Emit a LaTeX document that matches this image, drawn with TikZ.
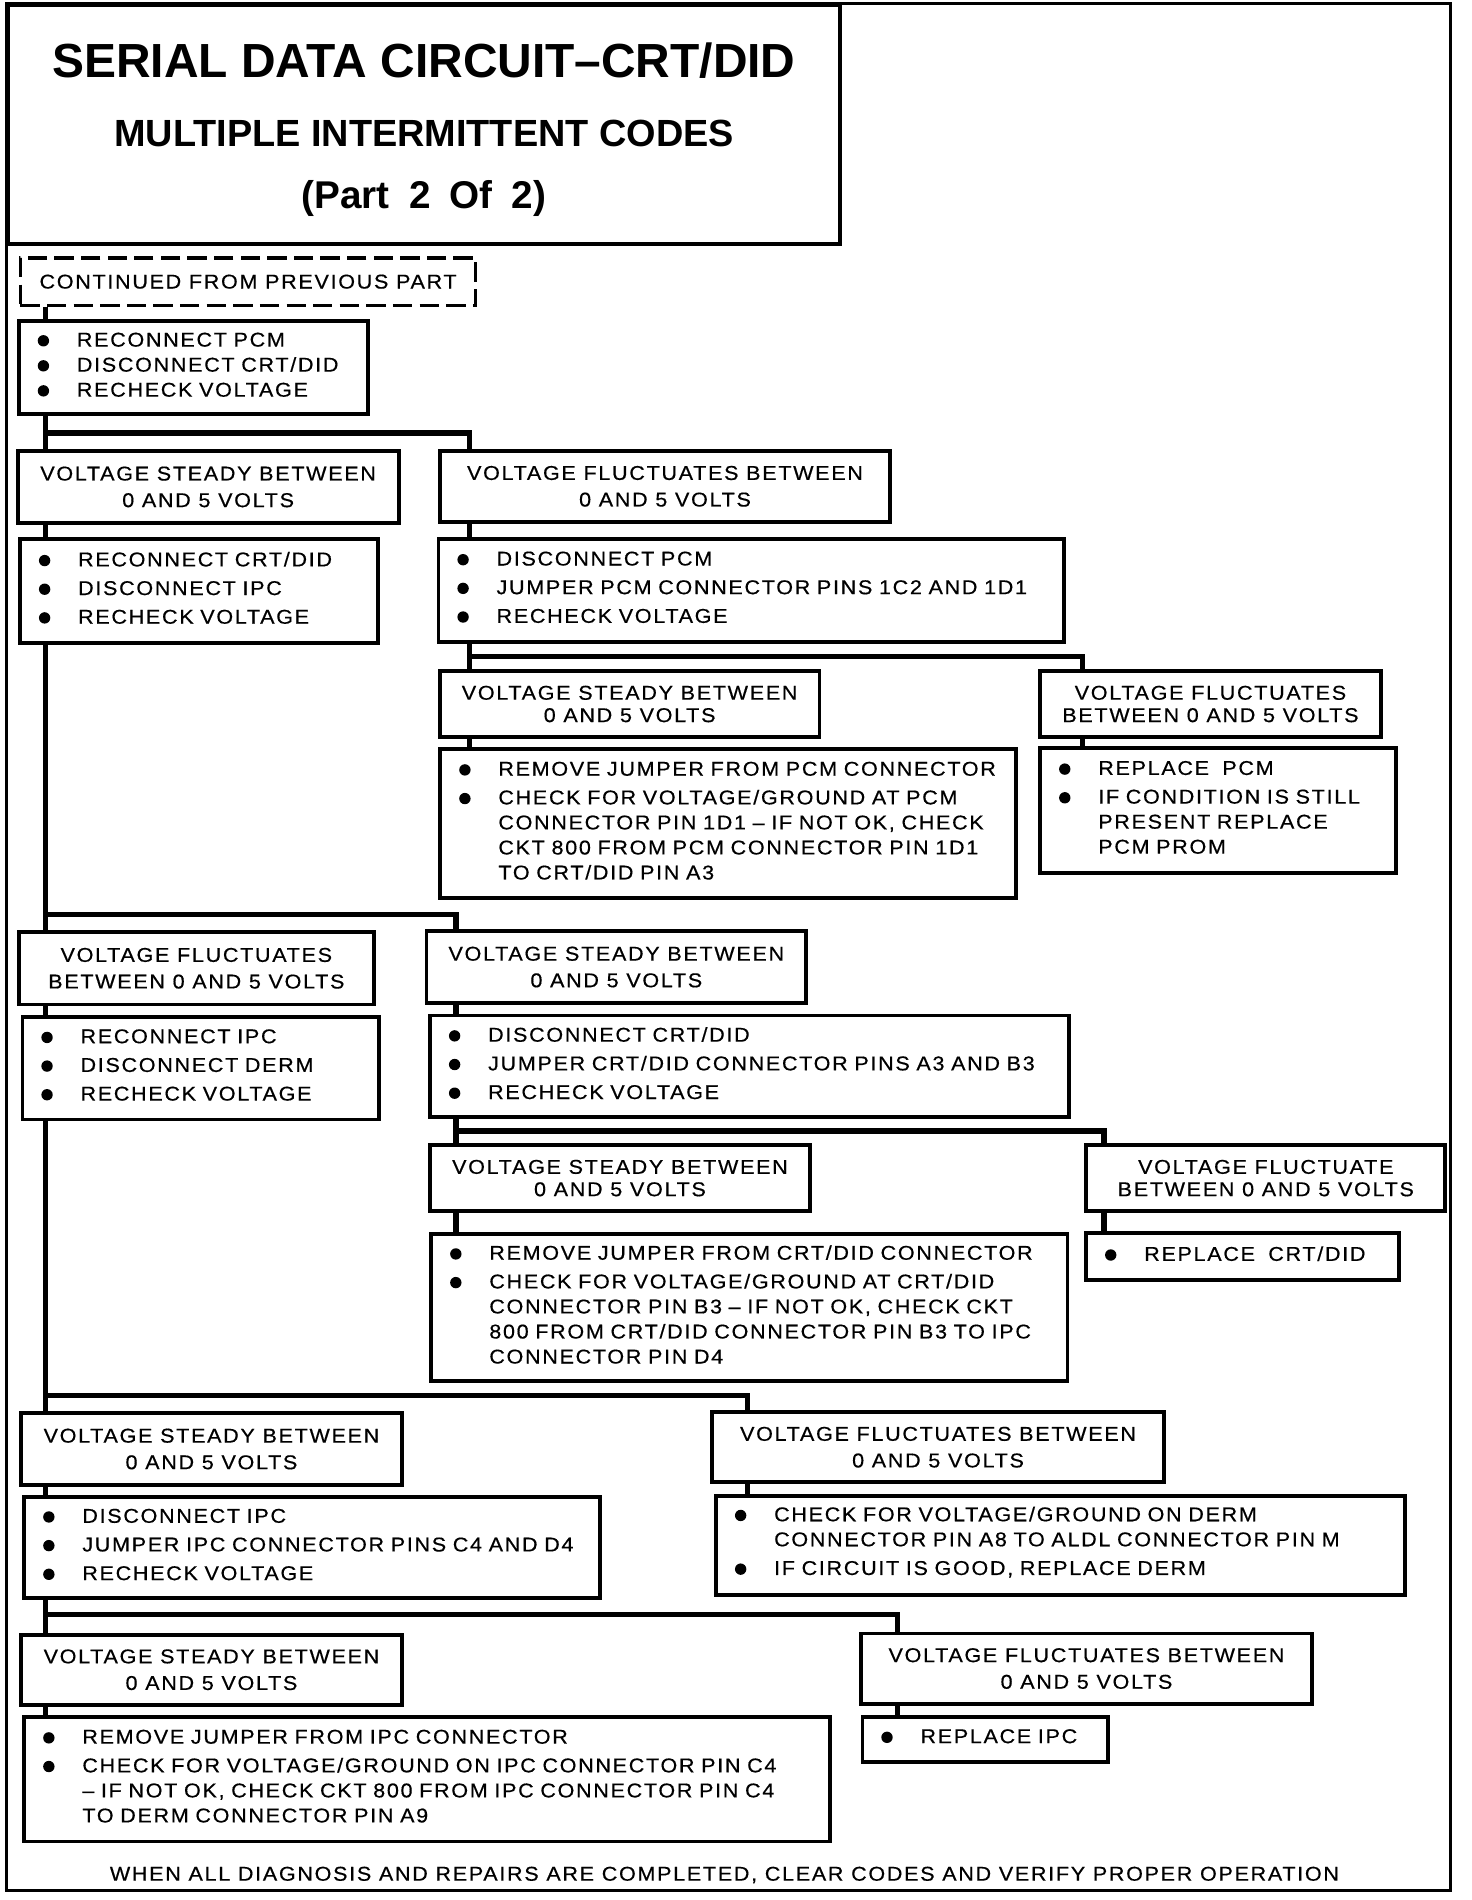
\documentclass[tikz,border=0pt]{standalone}
\usepackage{fontspec}
\setmainfont{Liberation Sans}[LetterSpace=8.5,FakeStretch=1.08,FakeBold=0.5]
\newfontfamily\ttlfont{Liberation Sans}

\newcommand\bdot{\tikz[baseline=0pt]\fill (0pt,4.8pt) circle[radius=4.7pt];}
\newcommand\bitem[1]{\hangindent=33.4pt\hangafter=1\noindent\makebox[33.4pt][l]{\hspace{1pt}\bdot}#1\par}

\begin{document}
\begin{tikzpicture}[x=1pt,y=-1pt,
	hbox/.style={draw,line width=3.2pt,anchor=north west,align=center,inner sep=0pt,font=\fontsize{16.5}{22}\selectfont},
	tbox/.style={hbox,font=\fontsize{16.5}{18.5}\selectfont},
	lbox/.style={draw,line width=3.2pt,anchor=north west,inner xsep=14.6pt,inner ysep=0pt,font=\fontsize{16.5}{20.7}\selectfont,
		execute at begin node={\setlength\parskip{3pt}},execute at end node={\nointerlineskip\vbox to 5pt{}}},
	link/.style={line width=4.5pt}]
	\useasboundingbox (0,0) rectangle (1217,1571);
	\draw[line width=2.5pt] (5,3) rectangle (1199,1563);
	% title
	\node[draw,line width=3.2pt,anchor=north west,minimum width=688,minimum height=197,inner sep=0pt,align=center,font=\ttlfont\bfseries\fontsize{31.3}{51}\selectfont] (ttl) at (5,3)
		{{\fontsize{39.6}{40}\selectfont\rule{0pt}{37pt}SERIAL DATA CIRCUIT–CRT/DID}\\[6pt] MULTIPLE INTERMITTENT CODES\\ {\fontsize{32}{40}\selectfont(Part\hspace{7pt} 2\hspace{7pt} Of\hspace{7pt} 2)}};
	\node[hbox,dashed,dash pattern=on 16pt off 6pt,line width=2.8pt,minimum width=376.5,minimum height=39] (cont) at (15.5,212) {CONTINUED FROM PREVIOUS PART};
	% first step
	\node[lbox,text width=259.3,minimum height=77] (a) at (14,264) {\setlength\parskip{0pt}\bitem{RECONNECT PCM}\bitem{DISCONNECT CRT/DID}\bitem{RECHECK VOLTAGE}};
	\node[hbox,minimum width=315,minimum height=60] (b) at (13,371) {VOLTAGE STEADY BETWEEN\\0 AND 5 VOLTS};
	\node[hbox,minimum width=371.5,minimum height=59] (c) at (362.5,371) {VOLTAGE FLUCTUATES BETWEEN\\0 AND 5 VOLTS};
	\node[lbox,text width=266.8,minimum height=86] (b2) at (15,444) {\bitem{RECONNECT CRT/DID}\bitem{DISCONNECT IPC}\bitem{RECHECK VOLTAGE}};
	\node[lbox,text width=487.8,minimum height=85] (c2) at (361,444) {\bitem{DISCONNECT PCM}\bitem{JUMPER PCM CONNECTOR PINS 1C2 AND 1D1}\bitem{RECHECK VOLTAGE}};
	\node[tbox,minimum width=314,minimum height=55] (c3) at (362,553) {VOLTAGE STEADY BETWEEN\\0 AND 5 VOLTS};
	\node[tbox,minimum width=281.5,minimum height=55] (c4) at (858.5,553) {VOLTAGE FLUCTUATES\\BETWEEN 0 AND 5 VOLTS};
	\node[lbox,text width=446.8,minimum height=123] (c5) at (362.5,618) {\bitem{REMOVE JUMPER FROM PCM CONNECTOR}\bitem{CHECK FOR VOLTAGE/GROUND AT PCM\newline CONNECTOR PIN 1D1 – IF NOT OK, CHECK\newline CKT 800 FROM PCM CONNECTOR PIN 1D1\newline TO CRT/DID PIN A3}};
	\node[lbox,text width=265.3,minimum height=103] (c6) at (858.5,617) {\bitem{REPLACE\ \ PCM}\bitem{IF CONDITION IS STILL\newline PRESENT REPLACE\newline PCM PROM}};
	% second step
	\node[hbox,minimum width=293.5,minimum height=60] (d) at (14,769) {VOLTAGE FLUCTUATES\\BETWEEN 0 AND 5 VOLTS};
	\node[hbox,minimum width=314,minimum height=60] (e) at (351,768) {VOLTAGE STEADY BETWEEN\\0 AND 5 VOLTS};
	\node[lbox,text width=265.8,minimum height=85] (d2) at (17,839) {\bitem{RECONNECT IPC}\bitem{DISCONNECT DERM}\bitem{RECHECK VOLTAGE}};
	\node[lbox,text width=498.8,minimum height=84] (e2) at (354,838) {\bitem{DISCONNECT CRT/DID}\bitem{JUMPER CRT/DID CONNECTOR PINS A3 AND B3}\bitem{RECHECK VOLTAGE}};
	\node[tbox,minimum width=314,minimum height=55] (e3) at (354,945) {VOLTAGE STEADY BETWEEN\\0 AND 5 VOLTS};
	\node[tbox,minimum width=297,minimum height=55] (e4) at (896.5,945) {VOLTAGE FLUCTUATE\\BETWEEN 0 AND 5 VOLTS};
	\node[lbox,text width=496.8,minimum height=121] (e5) at (355,1019) {\bitem{REMOVE JUMPER FROM CRT/DID CONNECTOR}\bitem{CHECK FOR VOLTAGE/GROUND AT CRT/DID\newline CONNECTOR PIN B3 – IF NOT OK, CHECK CKT\newline 800 FROM CRT/DID CONNECTOR PIN B3 TO IPC\newline CONNECTOR PIN D4}};
	\node[lbox,text width=229.3,minimum height=39] (e6) at (896.5,1018) {\bitem{REPLACE\ \ CRT/DID}};
	% third step
	\node[hbox,minimum width=315.5,minimum height=59] (f) at (15.5,1167) {VOLTAGE STEADY BETWEEN\\0 AND 5 VOLTS};
	\node[hbox,minimum width=374,minimum height=58] (g) at (587,1166) {VOLTAGE FLUCTUATES BETWEEN\\0 AND 5 VOLTS};
	\node[lbox,text width=446.8,minimum height=84] (f2) at (18.5,1236) {\bitem{DISCONNECT IPC}\bitem{JUMPER IPC CONNECTOR PINS C4 AND D4}\bitem{RECHECK VOLTAGE}};
	\node[lbox,text width=540.3,minimum height=82] (g2) at (590.5,1235) {\bitem{CHECK FOR VOLTAGE/GROUND ON DERM\newline CONNECTOR PIN A8 TO ALDL CONNECTOR PIN M}\bitem{IF CIRCUIT IS GOOD, REPLACE DERM}};
	% fourth step
	\node[hbox,minimum width=315.5,minimum height=58] (h) at (15.5,1350) {VOLTAGE STEADY BETWEEN\\0 AND 5 VOLTS};
	\node[hbox,minimum width=373.5,minimum height=58] (i) at (710,1349) {VOLTAGE FLUCTUATES BETWEEN\\0 AND 5 VOLTS};
	\node[lbox,text width=637.3,minimum height=103] (h2) at (18.5,1418) {\bitem{REMOVE JUMPER FROM IPC CONNECTOR}\bitem{CHECK FOR VOLTAGE/GROUND ON IPC CONNECTOR PIN C4\newline – IF NOT OK, CHECK CKT 800 FROM IPC CONNECTOR PIN C4\newline TO DERM CONNECTOR PIN A9}};
	\node[lbox,text width=173.8,minimum height=37] (i2) at (711.5,1418) {\bitem{REPLACE IPC}};
	\node[anchor=base,inner sep=0pt,font=\fontsize{16.5}{20}\selectfont] (note) at (599,1555) {WHEN ALL DIAGNOSIS AND REPAIRS ARE COMPLETED, CLEAR CODES AND VERIFY PROPER OPERATION};
	% link columns and branch heights
	\coordinate (tk) at (37.5,0); \coordinate (cc) at (388,0); \coordinate (c4c) at (895,0);
	\coordinate (ec) at (377,0); \coordinate (e4c) at (913,0); \coordinate (gc) at (618,0); \coordinate (ic) at (742,0);
	\coordinate (j1) at (0,358); \coordinate (j2) at (0,543); \coordinate (j3) at (0,756);
	\coordinate (j4) at (0,935); \coordinate (j5) at (0,1154); \coordinate (j6) at (0,1335);
	\foreach \u/\v/\k in {cont/a/tk,a/b/tk,b/b2/tk,b2/d/tk,d/d2/tk,d2/f/tk,f/f2/tk,f2/h/tk,h/h2/tk,
		c/c2/cc,c2/c3/cc,c3/c5/cc,c4/c6/c4c,e/e2/ec,e2/e3/ec,e3/e5/ec,e4/e6/e4c,g/g2/gc,i/i2/ic}
		\draw[link] (\u.south -| \k) -- (\v.north -| \k);
	\foreach \k/\j/\v/\c in {tk/j1/c/cc,cc/j2/c4/c4c,tk/j3/e/ec,ec/j4/e4/e4c,tk/j5/g/gc,tk/j6/i/ic}
		\draw[link] (\k |- \j) -| (\v.north -| \c);
\end{tikzpicture}
\end{document}
